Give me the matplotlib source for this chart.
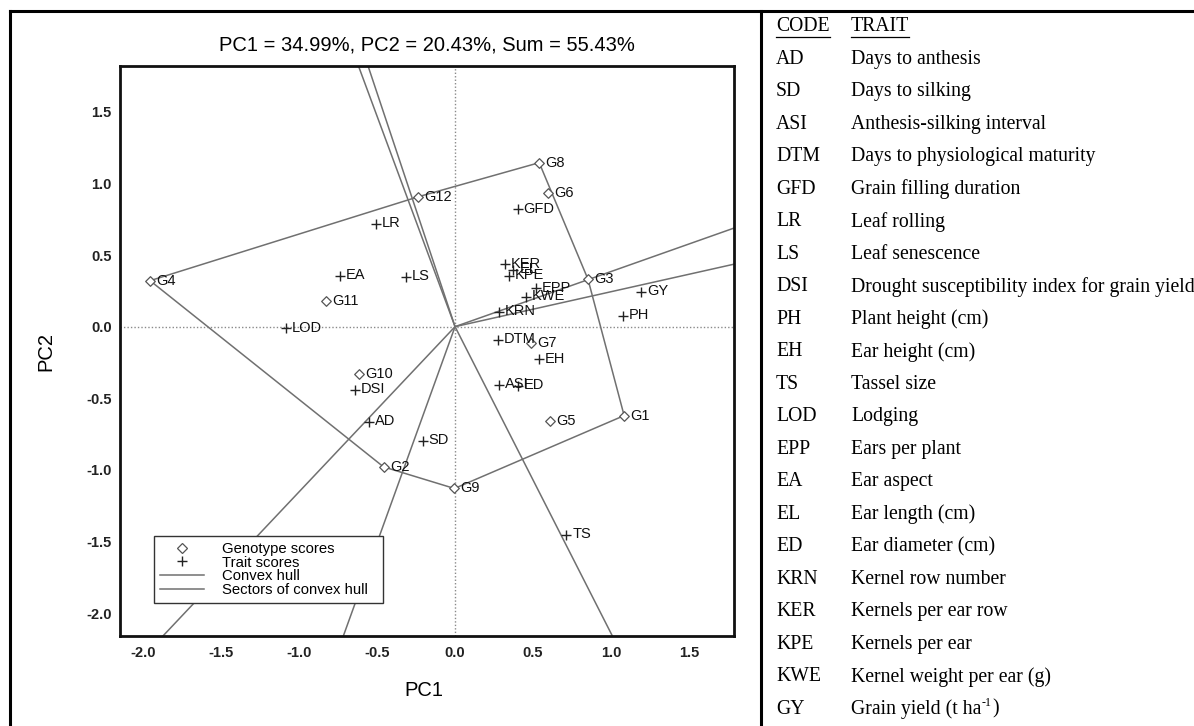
import numpy as np
import matplotlib
matplotlib.use("Agg")
import matplotlib.pyplot as plt
from matplotlib.lines import Line2D

# ---------------- data ----------------
genotypes = ['G1', 'G2', 'G3', 'G4', 'G5', 'G6', 'G7', 'G8', 'G9', 'G10', 'G11', 'G12']
geno_pc1 = [1.085, -0.459, 0.853, -1.957, 0.607, 0.596, 0.487, 0.540, -0.004, -0.619, -0.830, -0.236]
geno_pc2 = [-0.621, -0.979, 0.331, 0.321, -0.656, 0.935, -0.112, 1.145, -1.130, -0.328, 0.179, 0.907]

traits = ['AD', 'SD', 'ASI', 'DTM', 'GFD', 'LR', 'LS', 'DSI', 'PH', 'EH', 'TS',
          'LOD', 'EPP', 'EA', 'EL', 'ED', 'KRN', 'KER', 'KPE', 'KWE', 'GY']
trait_pc1 = [-0.551, -0.208, 0.281, 0.274, 0.401, -0.508, -0.317, -0.643, 1.078, 0.538, 0.714,
             -1.087, 0.519, -0.740, 0.375, 0.403, 0.279, 0.322, 0.345, 0.455, 1.196]
trait_pc2 = [-0.665, -0.798, -0.407, -0.093, 0.819, 0.717, 0.349, -0.442, 0.075, -0.228, -1.456,
             -0.011, 0.268, 0.354, 0.395, -0.414, 0.105, 0.435, 0.356, 0.209, 0.244]

hull_order = ['G4', 'G12', 'G8', 'G3', 'G1', 'G9', 'G2']

title = "PC1 = 34.99%, PC2 = 20.43%, Sum = 55.43%"
xticks = [-2.0, -1.5, -1.0, -0.5, 0.0, 0.5, 1.0, 1.5]
yticks = [-2.0, -1.5, -1.0, -0.5, 0.0, 0.5, 1.0, 1.5]

codes = ['AD', 'SD', 'ASI', 'DTM', 'GFD', 'LR', 'LS', 'DSI', 'PH', 'EH', 'TS',
         'LOD', 'EPP', 'EA', 'EL', 'ED', 'KRN', 'KER', 'KPE', 'KWE', 'GY']
descriptions = ['Days to anthesis', 'Days to silking', 'Anthesis-silking interval',
                'Days to physiological maturity', 'Grain filling duration', 'Leaf rolling',
                'Leaf senescence', 'Drought susceptibility index for grain yield',
                'Plant height (cm)', 'Ear height (cm)', 'Tassel size', 'Lodging',
                'Ears per plant', 'Ear aspect', 'Ear length (cm)', 'Ear diameter (cm)',
                'Kernel row number', 'Kernels per ear row', 'Kernels per ear',
                'Kernel weight per ear (g)', 'Grain yield (t ha']
gy_sup = '-1'
gy_tail = ')'

# ---------------- figure ----------------
W, H = 1194, 726
fig = plt.figure(figsize=(W / 100, H / 100), dpi=100)
fig.patch.set_facecolor('white')
sans = 'Liberation Sans'
serif = 'Liberation Serif'

ax = fig.add_axes([120 / W, 1 - 636 / H, 614 / W, 570 / H])
ax.set_xlim(-2.15, 1.79)
ax.set_ylim(-2.16, 1.82)

line_col = '#707070'
ax.axhline(0, color='#8a8a8a', lw=1.0, ls=(0, (1, 1.5)), zorder=1)
ax.axvline(0, color='#8a8a8a', lw=1.0, ls=(0, (1, 1.5)), zorder=1)

# convex hull
gx = dict(zip(genotypes, geno_pc1))
gy = dict(zip(genotypes, geno_pc2))
hx = [gx[g] for g in hull_order] + [gx[hull_order[0]]]
hy = [gy[g] for g in hull_order] + [gy[hull_order[0]]]
ax.plot(hx, hy, color=line_col, lw=1.1, zorder=2)

# sector rays: perpendicular from origin to each hull edge
for i in range(len(hull_order)):
    a = np.array([hx[i], hy[i]])
    b = np.array([hx[i + 1], hy[i + 1]])
    d = b - a
    t = -np.dot(a, d) / np.dot(d, d)
    foot = a + t * d
    far = foot / np.linalg.norm(foot) * 10
    ax.plot([0, far[0]], [0, far[1]], color=line_col, lw=1.1, zorder=2)

# genotype points
ax.scatter(geno_pc1, geno_pc2, marker='D', s=24, facecolors='white',
           edgecolors='#555555', linewidths=0.9, zorder=4)
for g, x, y in zip(genotypes, geno_pc1, geno_pc2):
    ax.annotate(g, (x, y), xytext=(4.5, 0), textcoords='offset points',
                va='center', ha='left', fontsize=10.5, family=sans, color='#111111', zorder=5)

# trait points
ax.scatter(trait_pc1, trait_pc2, marker='+', s=48, color='#222222',
           linewidths=1.0, zorder=4)
for t_, x, y in zip(traits, trait_pc1, trait_pc2):
    ax.annotate(t_, (x, y), xytext=(4.2, 0.5), textcoords='offset points',
                va='center', ha='left', fontsize=10.5, family=sans, color='#111111', zorder=5)

# axes styling
for sp in ax.spines.values():
    sp.set_linewidth(2.0)
    sp.set_color('#111111')
ax.set_xticks(xticks)
ax.set_yticks(yticks)
ax.set_xticklabels([f"{v:.1f}" for v in xticks])
ax.set_yticklabels([f"{v:.1f}" for v in yticks])
ax.tick_params(length=0, labelsize=10.5)
ax.tick_params(axis='x', pad=7)
ax.tick_params(axis='y', pad=6)
for lab in ax.get_xticklabels() + ax.get_yticklabels():
    lab.set_fontweight('bold')
    lab.set_family(sans)
    lab.set_color('#222222')

# legend
handles = [
    Line2D([], [], marker='D', ls='none', markerfacecolor='white', markeredgecolor='#555555',
           markersize=5, markeredgewidth=0.9),
    Line2D([], [], marker='+', ls='none', color='#222222', markersize=7, markeredgewidth=1.0),
    Line2D([], [], color=line_col, lw=1.1),
    Line2D([], [], color=line_col, lw=1.1),
]
leg = ax.legend(handles, ['Genotype scores', 'Trait scores', 'Convex hull', 'Sectors of convex hull'],
                loc='lower left', bbox_to_anchor=(0.055, 0.058, 0.373, 0.118), mode='expand',
                borderaxespad=0, frameon=True, fancybox=False, edgecolor='#333333', framealpha=1,
                prop={'family': sans, 'size': 10.7}, labelspacing=-0.02, handlelength=3.0,
                handletextpad=1.2, borderpad=0.4)
leg.get_frame().set_linewidth(1.0)
leg.set_zorder(6)

# titles / labels
fig.text(427 / W, 1 - 45 / H, title, ha='center', va='center', fontsize=14.5, family=sans)
fig.text(424 / W, 1 - 691 / H, 'PC1', ha='center', va='center', fontsize=14.5, family=sans)
fig.text(46 / W, 1 - 351 / H, 'PC2', ha='center', va='center', fontsize=14.5, family=sans,
         rotation=90)

# ---------------- right table ----------------
code_x = 776 / W
desc_x = 851 / W
row0 = 26.7
step = 32.5
fs = 14.2
hdr_code = fig.text(code_x, 1 - row0 / H, 'CODE', ha='left', va='center', fontsize=fs, family=serif)
hdr_trait = fig.text(desc_x, 1 - row0 / H, 'TRAIT', ha='left', va='center', fontsize=fs, family=serif)
desc_texts = []
for i, (c, d) in enumerate(zip(codes, descriptions)):
    y = 1 - (row0 + step * (i + 1)) / H
    fig.text(code_x, y, c, ha='left', va='center', fontsize=fs, family=serif)
    desc_texts.append(fig.text(desc_x, y, d, ha='left', va='center', fontsize=fs, family=serif))

fig.canvas.draw()
rend = fig.canvas.get_renderer()
# superscript for the last row
last = desc_texts[-1]
bb = last.get_window_extent(rend)
ylast = 1 - (row0 + step * len(codes)) / H
sup = fig.text(bb.x1 / W + 0.5 / W, ylast + 6 / H, gy_sup, ha='left', va='center',
               fontsize=fs * 0.6, family=serif)
fig.canvas.draw()
bb2 = sup.get_window_extent(rend)
fig.text(bb2.x1 / W + 0.5 / W, ylast, gy_tail, ha='left', va='center', fontsize=fs, family=serif)

# underline headers
for t in (hdr_code, hdr_trait):
    bbh = t.get_window_extent(rend)
    yl = (bbh.y0 - 0.5) / H
    fig.add_artist(Line2D([bbh.x0 / W, bbh.x1 / W], [yl, yl], color='black', lw=0.9,
                          transform=fig.transFigure))

# outer borders
bc = 'black'
blw = 2.2
fig.add_artist(Line2D([10 / W, 1.0], [1 - 11 / H, 1 - 11 / H], color=bc, lw=blw, transform=fig.transFigure))
fig.add_artist(Line2D([10 / W, 10 / W], [1 - 11 / H, 0], color=bc, lw=blw, transform=fig.transFigure))
fig.add_artist(Line2D([761 / W, 761 / W], [1 - 11 / H, 0], color=bc, lw=blw, transform=fig.transFigure))

fig.savefig('out.png', dpi=100, facecolor='white')
